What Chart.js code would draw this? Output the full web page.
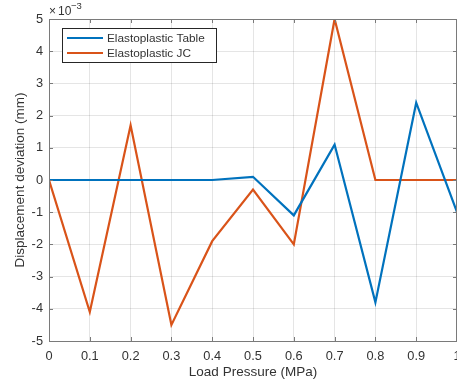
<!DOCTYPE html>
<html>
<head>
<meta charset="utf-8">
<script src="https://cdn.jsdelivr.net/npm/chart.js@4.4.1/dist/chart.umd.min.js"></script>
<style>
  html, body { margin: 0; padding: 0; background: #fff; overflow: hidden; }
  #wrap { position: relative; width: 457px; height: 388px; }
</style>
</head>
<body>
<div id="wrap"><canvas id="grafico"></canvas></div>
<script>
// datos (desplazamiento en unidades de 1e-3 mm)
const presion = [0, 0.1, 0.2, 0.3, 0.4, 0.5, 0.6, 0.7, 0.8, 0.9, 1.0];
const devTabla = [0, 0, 0, 0, 0, 0.1, -1.1, 1.1, -3.8, 2.4, -1.0];
const devJC = [0, -4.1, 1.7, -4.5, -1.9, -0.3, -2.0, 5.0, 0, 0, 0];
const etiquetas = ['Elastoplastic Table', 'Elastoplastic JC'];
const colores = ['#0072BD', '#D95319'];

const FUENTE = "'Liberation Sans', Arial, Helvetica, sans-serif";
const colorTexto = '#333333';
const colorEje = '#7a7a7a';

function puntos(ys) {
  return presion.map((x, i) => ({ x: x, y: ys[i] }));
}

// ticks hacia adentro, caja del eje, leyenda y exponente
const extrasMatlab = {
  id: 'extrasMatlab',
  afterDatasetsDraw(chart) {
    const ctx = chart.ctx;
    const a = chart.chartArea;
    const sx = chart.scales.x, sy = chart.scales.y;
    ctx.save();
    ctx.strokeStyle = colorEje;
    ctx.lineWidth = 1;
    ctx.beginPath();
    sx.ticks.forEach(t => {
      const px = Math.round(sx.getPixelForValue(t.value)) + 0.5;
      ctx.moveTo(px, a.bottom); ctx.lineTo(px, a.bottom - 4);
      ctx.moveTo(px, a.top); ctx.lineTo(px, a.top + 4);
    });
    sy.ticks.forEach(t => {
      const py = Math.round(sy.getPixelForValue(t.value)) + 0.5;
      ctx.moveTo(a.left, py); ctx.lineTo(a.left + 4, py);
      ctx.moveTo(a.right, py); ctx.lineTo(a.right - 4, py);
    });
    ctx.stroke();
    ctx.strokeRect(Math.round(a.left) + 0.5, Math.round(a.top) + 0.5,
      Math.round(a.right - a.left) - 1, Math.round(a.bottom - a.top));

    // leyenda
    const lx = 62, ly = 28, lw = 154, lh = 34;
    ctx.fillStyle = '#fff';
    ctx.fillRect(lx, ly, lw, lh);
    ctx.strokeStyle = '#262626';
    ctx.strokeRect(lx + 0.5, ly + 0.5, lw, lh);
    ctx.font = '11.8px ' + FUENTE;
    ctx.textBaseline = 'middle';
    chart.data.datasets.forEach((ds, i) => {
      const y = ly + 10 + i * 15;
      ctx.strokeStyle = ds.borderColor;
      ctx.lineWidth = 2.2;
      ctx.beginPath();
      ctx.moveTo(lx + 5, y); ctx.lineTo(lx + 41, y);
      ctx.stroke();
      ctx.fillStyle = colorTexto;
      ctx.fillText(ds.label, lx + 45, y + 0.5);
    });

    // exponente
    ctx.fillStyle = colorTexto;
    ctx.font = '12px ' + FUENTE;
    ctx.textBaseline = 'alphabetic';
    ctx.fillText('\u00d7', 49, 15);
    ctx.fillText('10', 58, 15);
    ctx.font = '9.5px ' + FUENTE;
    ctx.fillText('\u22123', 71, 9);
    ctx.restore();
  }
};

new Chart(document.getElementById('grafico'), {
  type: 'line',
  data: {
    datasets: [
      { label: etiquetas[0], data: puntos(devTabla), borderColor: colores[0], borderWidth: 2.2, pointRadius: 0, tension: 0, fill: false },
      { label: etiquetas[1], data: puntos(devJC), borderColor: colores[1], borderWidth: 2.2, pointRadius: 0, tension: 0, fill: false }
    ]
  },
  options: {
    responsive: true,
    maintainAspectRatio: false,
    animation: false,
    layout: { padding: { left: 0, right: 0, top: 19, bottom: 0 } },
    plugins: { legend: { display: false }, tooltip: { enabled: false } },
    scales: {
      x: {
        type: 'linear', min: 0, max: 1,
        border: { display: false },
        grid: { color: 'rgba(38,38,38,0.12)', drawTicks: false },
        ticks: {
          stepSize: 0.1, padding: 8, maxRotation: 0, autoSkip: false,
          color: colorTexto, font: { family: FUENTE, size: 12.8 },
          callback: v => String(Math.round(v * 10) / 10)
        },
        title: { display: true, text: 'Load Pressure (MPa)', color: colorTexto, font: { family: FUENTE, size: 13.5 }, padding: { top: 2, bottom: 8 } },
        afterFit(s) { s.height = 47; s.paddingLeft = 0; s.paddingRight = 0; }
      },
      y: {
        min: -5, max: 5,
        border: { display: false },
        grid: { color: 'rgba(38,38,38,0.12)', drawTicks: false },
        ticks: { stepSize: 1, padding: 6, color: colorTexto, font: { family: FUENTE, size: 12.8 } },
        title: { display: true, text: 'Displacement deviation (mm)', color: colorTexto, font: { family: FUENTE, size: 13.5 }, padding: { top: 12, bottom: 2 } },
        afterFit(s) { s.width = 49; s.paddingTop = 0; s.paddingBottom = 0; }
      }
    }
  },
  plugins: [extrasMatlab]
});
</script>
</body>
</html>
